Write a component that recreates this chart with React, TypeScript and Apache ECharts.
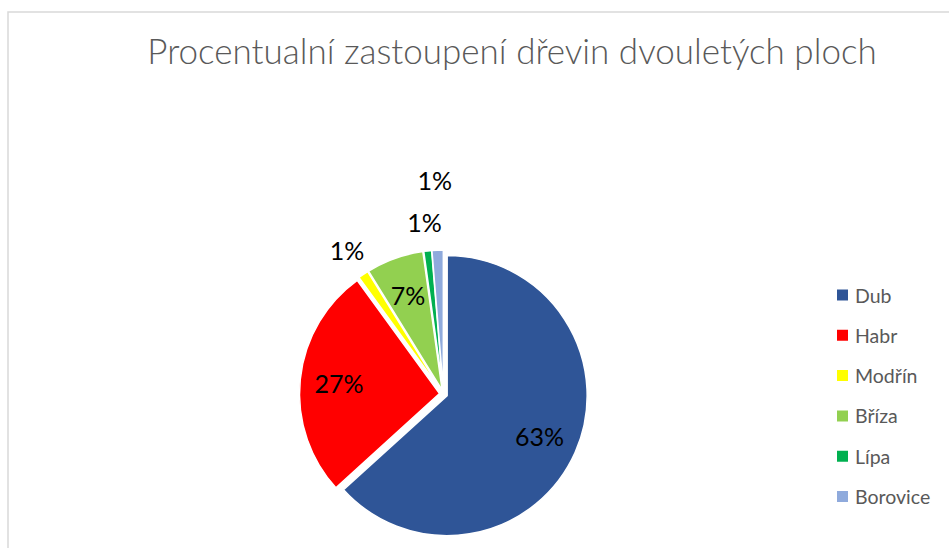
import React, { useEffect, useRef } from "react";
import * as echarts from "echarts";

const TITLE = "Procentualní zastoupení dřevin dvouletých ploch";
const categories = ["Dub", "Habr", "Modřín", "Bříza", "Lípa", "Borovice"];
const values = [63.2, 26.7, 1.2, 6.6, 0.9, 1.3];
const colors = ["#2F5597", "#FF0000", "#FFFF00", "#92D050", "#00B050", "#8FAADC"];
// which label ring each category's percentage is drawn on (0 = inside, 1 = near outside, 2 = far outside)
const labelRing = [0, 0, 1, 0, 1, 2];

const FONT = "Lato, 'Open Sans', sans-serif";
const CX = 443.5;
const CY = 394;
const R = 140;
const RING_RADII = [204, 340, 422];

export default function App() {
  const ref = useRef<HTMLDivElement>(null);
  useEffect(() => {
    if (!ref.current) return;
    const chart = echarts.init(ref.current, undefined, { renderer: "svg" });
    const total = values.reduce((a, b) => a + b, 0);
    const fmt = (p: any) => Math.round((p.value / total) * 100) + "%";

    const overlay = (ring: number) => ({
      type: "pie",
      silent: true,
      center: [CX, CY],
      radius: [0, RING_RADII[ring]],
      startAngle: 90,
      z: 5,
      avoidLabelOverlap: false,
      labelLine: { show: false },
      data: categories.map((name, i) => ({
        name,
        value: values[i],
        itemStyle: { color: "rgba(0,0,0,0)", borderWidth: 0 },
        label: {
          show: labelRing[i] === ring,
          position: "inside",
          formatter: fmt,
          color: "#000000",
          fontFamily: FONT,
          fontSize: 25,
        },
      })),
      emphasis: { disabled: true },
    });

    chart.setOption({
      animation: false,
      backgroundColor: "#ffffff",
      title: {
        text: TITLE,
        left: 512,
        top: 32,
        textAlign: "center",
        padding: 0,
        textStyle: {
          fontFamily: FONT,
          fontSize: 35,
          fontWeight: 300,
          color: "#595959",
        },
      },
      legend: {
        orient: "vertical",
        left: 835,
        top: 285,
        padding: 0,
        icon: "rect",
        itemWidth: 13,
        itemHeight: 13,
        itemGap: 20.3,
        data: categories,
        selectedMode: false,
        textStyle: {
          fontFamily: FONT,
          fontSize: 19.5,
          lineHeight: 20,
          color: "#595959",
          padding: [0, 0, 0, 1],
        },
      },
      graphic: [
        {
          type: "rect",
          shape: { x: 8, y: 12, width: 980, height: 600 },
          style: { fill: "none", stroke: "#d9d9d9", lineWidth: 1.5 },
          silent: true,
        },
      ],
      series: [
        {
          type: "pie",
          center: [CX, CY],
          radius: [0, R],
          startAngle: 90,
          selectedMode: "multiple",
          selectedOffset: 4,
          label: { show: false },
          labelLine: { show: false },
          emphasis: { disabled: true },
          data: categories.map((name, i) => ({
            name,
            value: values[i],
            selected: true,
            itemStyle: { color: colors[i], borderColor: "#ffffff", borderWidth: 1.5 },
          })),
        },
        overlay(0),
        overlay(1),
        overlay(2),
      ],
    });
    return () => chart.dispose();
  }, []);
  return (
    <div
      ref={ref}
      style={{ position: "absolute", left: 0, top: 0, width: 949, height: 548 }}
    />
  );
}
